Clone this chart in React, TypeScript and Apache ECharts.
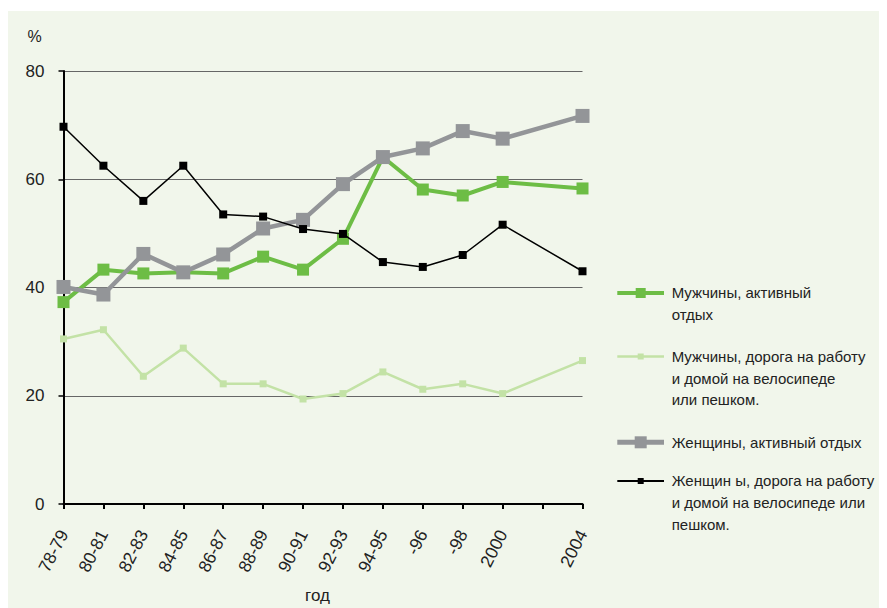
import React, { useEffect, useRef } from "react";
import * as echarts from "echarts";

// Survey periods along the horizontal axis (the blank slot keeps 2004 two years after 2000)
const categories = ["78-79", "80-81", "82-83", "84-85", "86-87", "88-89", "90-91", "92-93", "94-95", "-96", "-98", "2000", "", "2004"];

// Share of people, %
const menActive = [37.3, 43.3, 42.6, 42.8, 42.6, 45.7, 43.3, 49.0, 64.1, 58.1, 57.0, 59.5, null, 58.3];
const menCommute = [30.5, 32.2, 23.6, 28.8, 22.2, 22.2, 19.4, 20.4, 24.4, 21.2, 22.2, 20.4, null, 26.5];
const womenActive = [40.1, 38.7, 46.2, 42.8, 46.1, 50.9, 52.5, 59.1, 64.1, 65.7, 68.9, 67.5, null, 71.7];
const womenCommute = [69.7, 62.5, 56.0, 62.5, 53.5, 53.1, 50.8, 49.9, 44.7, 43.8, 46.0, 51.6, null, 43.0];

const seriesNames = [
  "Мужчины, активный отдых",
  "Мужчины, дорога на работу и домой на велосипеде или пешком.",
  "Женщины, активный отдых",
  "Женщин ы, дорога на работу и домой на велосипеде или пешком.",
];
const legendLines = [
  ["Мужчины, активный", "отдых"],
  ["Мужчины, дорога на работу", "и домой на велосипеде", "или пешком."],
  ["Женщины, активный отдых"],
  ["Женщин ы, дорога на работу", "и домой на велосипеде или", "пешком."],
];
const yTicks = { min: 0, max: 80, step: 20 };
const unitLabel = "%";
const xTitle = "год";

const colors = ["#6dbd45", "#c3e2a6", "#939598", "#000000"];
const lineWidths = [4, 2.5, 4.5, 1.5];
const symbolSizes = [12, 7, 14, 8];
const legendLineWidths = [4, 2.5, 5, 2];
const legendSymbolSizes = [10, 6, 12, 6];
const legendRowY = [282, 345.5, 431.3, 470];

const FONT = "'Liberation Sans', Arial, sans-serif";
const TEXT_COLOR = "#222";

export default function App() {
  const ref = useRef<HTMLDivElement>(null);

  useEffect(() => {
    if (!ref.current) return;
    const chart = echarts.init(ref.current, undefined, { renderer: "svg" });

    const data = [menActive, menCommute, womenActive, womenCommute];
    const series = data.map((values, i) => ({
      name: seriesNames[i],
      type: "line",
      data: values,
      connectNulls: true,
      symbol: "rect",
      symbolSize: symbolSizes[i],
      showAllSymbol: true,
      lineStyle: { color: colors[i], width: lineWidths[i] },
      itemStyle: { color: colors[i] },
      emphasis: { disabled: true },
      z: 2 + i,
    }));

    const lineH = 21.7;
    const legendGraphics: any[] = [];
    legendLines.forEach((lines, i) => {
      const y = legendRowY[i];
      const s = legendSymbolSizes[i];
      legendGraphics.push(
        {
          type: "line",
          shape: { x1: 609.3, y1: y, x2: 656, y2: y },
          style: { stroke: colors[i], lineWidth: legendLineWidths[i] },
        },
        {
          type: "rect",
          shape: { x: 632.7 - s / 2, y: y - s / 2, width: s, height: s },
          style: { fill: colors[i] },
        },
        {
          type: "text",
          x: 663.7,
          y: y - lineH / 2,
          style: {
            text: lines.join("\n"),
            fontSize: 15,
            lineHeight: lineH,
            fontFamily: FONT,
            fill: TEXT_COLOR,
            align: "left",
            verticalAlign: "top",
          },
        }
      );
    });

    chart.setOption({
      animation: false,
      backgroundColor: "#f1f6eb",
      tooltip: { show: false },
      grid: { left: 55.5, top: 60, right: 304.5, bottom: 104, containLabel: false },
      xAxis: {
        type: "category",
        data: categories,
        boundaryGap: false,
        axisLine: { lineStyle: { color: "#000", width: 2 } },
        axisTick: { show: true, interval: 0, length: 5, lineStyle: { color: "#000", width: 2 } },
        axisLabel: {
          interval: 0,
          rotate: 63,
          margin: 27,
          padding: [0, 0, 9, 0],
          fontSize: 17.5,
          fontFamily: FONT,
          color: TEXT_COLOR,
        },
        splitLine: { show: false },
      },
      yAxis: {
        type: "value",
        min: yTicks.min,
        max: yTicks.max,
        interval: yTicks.step,
        axisLine: { show: true, lineStyle: { color: "#000", width: 2 } },
        axisTick: { show: true, length: 5, lineStyle: { color: "#000", width: 1.5 } },
        axisLabel: { margin: 19, fontSize: 17, fontFamily: FONT, fontWeight: "normal", color: TEXT_COLOR },
        splitLine: { show: true, lineStyle: { color: "#666", width: 1 } },
      },
      series,
      graphic: [
        {
          type: "text",
          x: 26.5,
          y: 25,
          style: { text: unitLabel, fontSize: 16, fontFamily: FONT, fill: TEXT_COLOR, align: "center", verticalAlign: "middle" },
        },
        {
          type: "text",
          x: 309.5,
          y: 584.5,
          style: { text: xTitle, fontSize: 17, fontFamily: FONT, fill: TEXT_COLOR, align: "center", verticalAlign: "middle" },
        },
        ...legendGraphics,
      ],
    });

    return () => chart.dispose();
  }, []);

  return (
    <div style={{ paddingTop: 3 }}>
      <div ref={ref} style={{ width: 879, height: 597 }} />
    </div>
  );
}
